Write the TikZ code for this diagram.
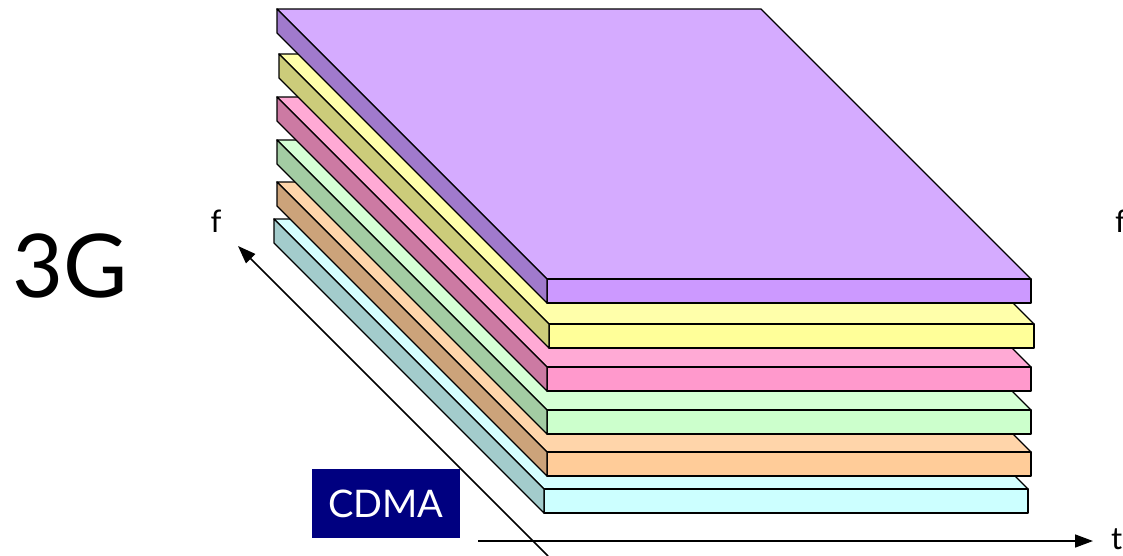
\documentclass[tikz,border=0pt]{standalone}
\usepackage{fontspec}
\setmainfont{Lato}
\usetikzlibrary{arrows.meta}
\definecolor{purT}{HTML}{D5ABFF}\definecolor{purF}{HTML}{CC99FF}\definecolor{purS}{HTML}{A07ACC}
\definecolor{yelT}{HTML}{FFFFAA}\definecolor{yelF}{HTML}{FFFF99}\definecolor{yelS}{HTML}{CCCC7A}
\definecolor{pinT}{HTML}{FFAAD5}\definecolor{pinF}{HTML}{FF99CC}\definecolor{pinS}{HTML}{CC7AA3}
\definecolor{grnT}{HTML}{D5FFD5}\definecolor{grnF}{HTML}{CCFFCC}\definecolor{grnS}{HTML}{A3CCA3}
\definecolor{orgT}{HTML}{FFD5AA}\definecolor{orgF}{HTML}{FFCC99}\definecolor{orgS}{HTML}{CCA37A}
\definecolor{cyaT}{HTML}{D5FFFF}\definecolor{cyaF}{HTML}{CCFFFF}\definecolor{cyaS}{HTML}{A3CCCC}
\definecolor{navybox}{HTML}{000080}
\newcommand\drawslab[6]{%
  \draw[slabline, fill=#4] (#1,#2) -- ({#1+#3},#2) -- ({#1+#3-270},{#2-270}) -- ({#1-270},{#2-270}) -- cycle;
  \draw[slabline, fill=#5] (#1,#2) rectangle ({#1+#3},{#2+24});
  \draw[slabline, fill=#6] ({#1-270},{#2-270}) -- (#1,#2) -- (#1,{#2+24}) -- ({#1-270},{#2-246}) -- cycle;
}
\tikzset{
  slabline/.style={draw=black, line width=1.4pt, line join=round},
  axis/.style={draw=black, line width=1.6pt, -{Triangle[length=18pt,width=13pt]}},
  lbl/.style={inner sep=0pt, text=black}
}
\begin{document}
\begin{tikzpicture}[x=1pt,y=-1pt]
\useasboundingbox (0,0) rectangle (1123,555);
% axes
\coordinate (fstart) at (548,556);
\coordinate (fend) at (238,246);
\coordinate (tstart) at (478,541);
\coordinate (tend) at (1093,541);
\draw[axis] (fstart) -- (fend);
\draw[axis] (tstart) -- (tend);
% slabs, bottom to top
\drawslab{544}{489}{484}{cyaT}{cyaF}{cyaS}
\drawslab{547}{452}{484}{orgT}{orgF}{orgS}
\drawslab{547}{410}{484}{grnT}{grnF}{grnS}
\drawslab{547}{367}{484}{pinT}{pinF}{pinS}
\drawslab{549}{324}{485}{yelT}{yelF}{yelS}
\drawslab{547}{279}{484}{purT}{purF}{purS}
% labels
\node[lbl, font=\fontsize{88}{88}\selectfont] (g3) at (70,266) {3G};
\node[lbl, font=\fontsize{31}{31}\selectfont, anchor=base] (fl) at (216,232) {f};
\node[lbl, font=\fontsize{31}{31}\selectfont, anchor=base west] (fr) at (1115,232) {f};
\node[lbl, font=\fontsize{31}{31}\selectfont, anchor=base west] (tl) at (1111,549) {t};
\node[fill=navybox, text=white, minimum width=148pt, minimum height=69pt, inner sep=0pt,
      font=\fontsize{38}{38}\selectfont] (cdma) at (386,503.5) {CDMA};
\end{tikzpicture}
\end{document}
